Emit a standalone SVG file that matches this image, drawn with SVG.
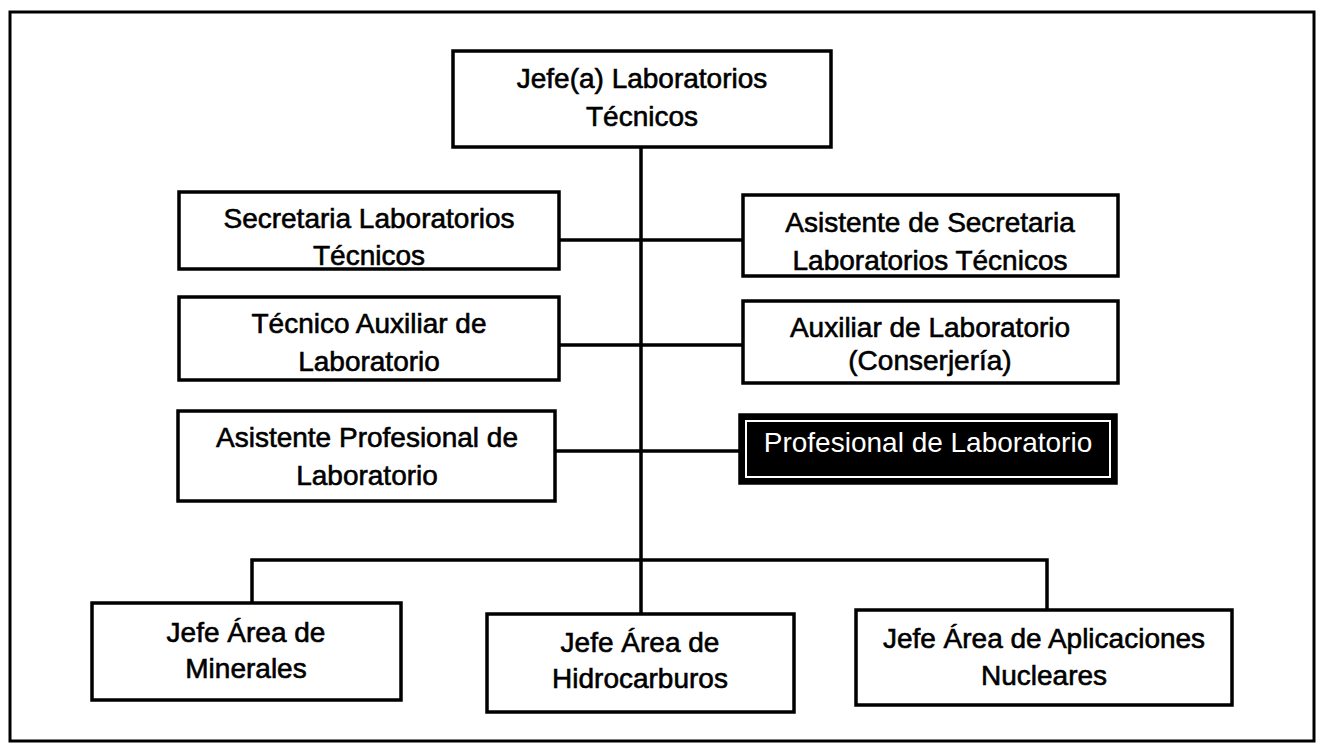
<svg xmlns="http://www.w3.org/2000/svg" width="1321" height="749" viewBox="0 0 1321 749">
<style>
.box{fill:#fff;stroke:#000;stroke-width:3.5}
.dark{fill:#000;stroke:#000;stroke-width:3.5}
.inner{fill:none;stroke:#fff;stroke-width:2}
.t{font-family:"Liberation Sans",Arial,sans-serif;font-size:28px;fill:#000;text-anchor:middle;stroke:#000;stroke-width:0.6}
.tw{font-family:"Liberation Sans",Arial,sans-serif;font-size:28px;fill:#fff;text-anchor:middle}
.ln{fill:none;stroke:#000;stroke-width:3.5}
</style>
<rect x="0" y="0" width="1321" height="749" fill="#fff"/>
<rect x="10" y="12" width="1304" height="729" fill="none" stroke="#000" stroke-width="3"/>
<g id="connectors">
<line class="ln" x1="641" y1="148" x2="641" y2="614"/>
<line class="ln" x1="559" y1="240" x2="743" y2="240"/>
<line class="ln" x1="559" y1="345" x2="743" y2="345"/>
<line class="ln" x1="555" y1="451" x2="740" y2="451"/>
<polyline class="ln" points="252,603 252,560 1047,560 1047,610"/>
</g>
<g id="jefe">
<rect class="box" x="453" y="51" width="378" height="96"/>
<text class="t" x="642" y="88">Jefe(a) Laboratorios</text>
<text class="t" x="642" y="126">Técnicos</text>
</g>
<g id="secretaria">
<rect class="box" x="179" y="192" width="380" height="77"/>
<text class="t" x="369" y="228">Secretaria Laboratorios</text>
<text class="t" x="369" y="265">Técnicos</text>
</g>
<g id="asistente-secretaria">
<rect class="box" x="743" y="195" width="375" height="81"/>
<text class="t" x="930" y="232">Asistente de Secretaria</text>
<text class="t" x="930" y="270">Laboratorios Técnicos</text>
</g>
<g id="tecnico-auxiliar">
<rect class="box" x="179" y="297" width="380" height="83"/>
<text class="t" x="369" y="333">Técnico Auxiliar de</text>
<text class="t" x="369" y="371">Laboratorio</text>
</g>
<g id="auxiliar-laboratorio">
<rect class="box" x="743" y="301" width="375" height="82"/>
<text class="t" x="930" y="337">Auxiliar de Laboratorio</text>
<text class="t" x="930" y="370">(Conserjería)</text>
</g>
<g id="asistente-profesional">
<rect class="box" x="178" y="411" width="377" height="90"/>
<text class="t" x="367" y="447">Asistente Profesional de</text>
<text class="t" x="367" y="485">Laboratorio</text>
</g>
<g id="profesional">
<rect class="dark" x="740" y="415" width="376" height="68"/>
<rect class="inner" x="746" y="421" width="364" height="56"/>
<text class="tw" x="928" y="452">Profesional de Laboratorio</text>
</g>
<g id="minerales">
<rect class="box" x="92" y="603" width="309" height="97"/>
<text class="t" x="246" y="642">Jefe Área de</text>
<text class="t" x="246" y="678">Minerales</text>
</g>
<g id="hidrocarburos">
<rect class="box" x="487" y="614" width="307" height="98"/>
<text class="t" x="640" y="652">Jefe Área de</text>
<text class="t" x="640" y="688">Hidrocarburos</text>
</g>
<g id="nucleares">
<rect class="box" x="856" y="610" width="376" height="95"/>
<text class="t" x="1044" y="648">Jefe Área de Aplicaciones</text>
<text class="t" x="1044" y="685">Nucleares</text>
</g>
</svg>
